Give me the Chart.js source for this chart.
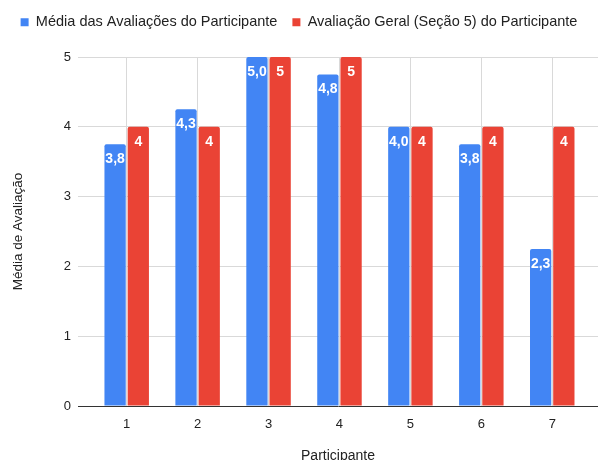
<!DOCTYPE html>
<html lang="pt">
<head>
<meta charset="utf-8">
<title>Média de Avaliação por Participante</title>
<script src="https://cdn.jsdelivr.net/npm/chart.js@4/dist/chart.umd.min.js"></script>
<style>
  html, body { margin: 0; padding: 0; background: #ffffff; }
  #wrap { width: 598px; height: 460px; }
</style>
</head>
<body>
<div id="wrap"><canvas id="chart" width="598" height="460"></canvas></div>
<script>
// Participants on the x axis
const participants = ['1', '2', '3', '4', '5', '6', '7'];
// Mean of each participant's ratings
const mediaAvaliacoes = [3.75, 4.25, 5.0, 4.75, 4.0, 3.75, 2.25];
// Overall rating given in section 5
const avaliacaoGeral = [4, 4, 5, 5, 4, 4, 4];
// Value axis ticks
const yTicks = [0, 1, 2, 3, 4, 5];

const FONT = '"Liberation Sans", Arial, Helvetica, sans-serif';
const BLUE = '#4285F4';
const RED = '#EA4335';

const toPoints = vals => vals.map((v, i) => ({ x: i + 1, y: v }));

// White value labels just inside the top of each bar
const barLabels = {
  id: 'barLabels',
  afterDatasetsDraw(chart) {
    const ctx = chart.ctx;
    ctx.save();
    ctx.font = 'bold 14px ' + FONT;
    ctx.fillStyle = '#ffffff';
    ctx.textAlign = 'center';
    ctx.textBaseline = 'middle';
    chart.data.datasets.forEach((ds, di) => {
      const meta = chart.getDatasetMeta(di);
      meta.data.forEach((bar, i) => {
        const v = ds.data[i].y;
        const txt = di === 0 ? v.toFixed(1).replace('.', ',') : String(v);
        ctx.fillText(txt, bar.x, bar.y + 15);
      });
    });
    ctx.restore();
  }
};

// Extra room between the legend and the plot
const legendRoom = {
  id: 'legendRoom',
  beforeInit(chart) {
    const legend = chart.legend;
    const origFit = legend.fit;
    legend.fit = function () {
      origFit.call(this);
      this.height = 57;
    };
  }
};

new Chart(document.getElementById('chart'), {
  type: 'bar',
  data: {
    datasets: [
      {
        label: 'Média das Avaliações do Participante',
        data: toPoints(mediaAvaliacoes),
        backgroundColor: BLUE,
        borderRadius: 2,
        categoryPercentage: 0.654,
        barPercentage: 0.918
      },
      {
        label: 'Avaliação Geral (Seção 5) do Participante',
        data: toPoints(avaliacaoGeral),
        backgroundColor: RED,
        borderRadius: 2,
        categoryPercentage: 0.654,
        barPercentage: 0.918
      }
    ]
  },
  options: {
    responsive: false,
    animation: false,
    layout: { padding: { top: 0, left: 0, right: 0, bottom: 0 } },
    plugins: {
      tooltip: { enabled: false },
      legend: {
        position: 'top',
        align: 'center',
        labels: {
          boxWidth: 8,
          boxHeight: 8,
          padding: 15,
          color: '#222222',
          font: { family: FONT, size: 14.5 }
        }
      }
    },
    scales: {
      x: {
        type: 'linear',
        offset: false,
        min: 0.3134,
        max: 7.645,
        afterBuildTicks(scale) {
          scale.ticks = participants.map((p, i) => ({ value: i + 1 }));
        },
        afterFit(scale) { scale.height = 54; },
        ticks: {
          padding: 11,
          color: '#222222',
          font: { family: FONT, size: 13 },
          callback: v => participants[v - 1] ?? ''
        },
        grid: { color: '#d9d9d9', drawTicks: false, offset: false },
        border: { display: true, color: '#333333', width: 1 },
        title: {
          display: true,
          text: 'Participante',
          color: '#222222',
          font: { family: FONT, size: 14 },
          padding: { top: 0, bottom: -5 }
        }
      },
      y: {
        min: 0,
        max: 5,
        afterBuildTicks(scale) {
          scale.ticks = yTicks.map(v => ({ value: v }));
        },
        afterFit(scale) { scale.width = 78; },
        ticks: {
          padding: 7,
          color: '#222222',
          font: { family: FONT, size: 13 }
        },
        grid: {
          color: ctx => (ctx.tick && ctx.tick.value === 0) ? 'rgba(0,0,0,0)' : '#d9d9d9',
          drawTicks: false
        },
        border: { display: false },
        title: {
          display: true,
          text: 'Média de Avaliação',
          color: '#222222',
          font: { family: FONT, size: 13.5 },
          padding: { top: 10, bottom: 0 }
        }
      }
    }
  },
  plugins: [barLabels, legendRoom]
});
</script>
</body>
</html>
